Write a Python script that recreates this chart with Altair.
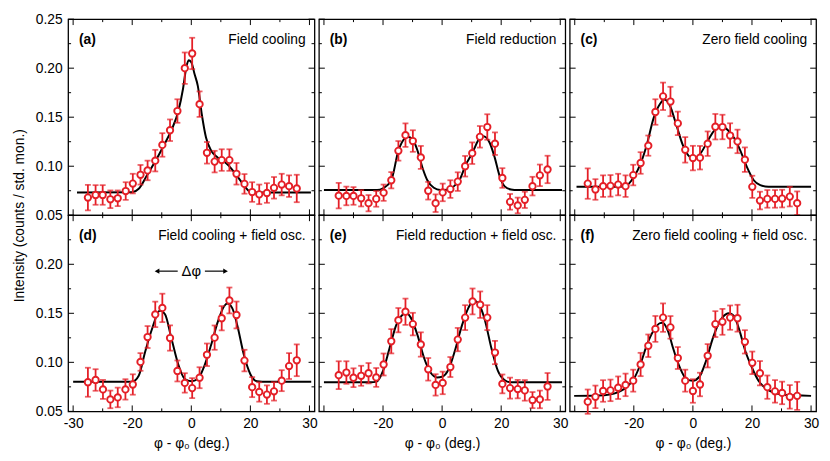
import altair as alt
import pandas as pd

RED = "#e41e26"
FONT = "Liberation Sans"
W, H = 250, 199
XDOM = [-41.7, 41.7]
YDOM = [0.05, 0.25]

PANEL_TAGS = ["(a)", "(b)", "(c)", "(d)", "(e)", "(f)"]
PANEL_NAMES = ["Field cooling", "Field reduction", "Zero field cooling",
               "Field cooling + field osc.", "Field reduction + field osc.",
               "Zero field cooling + field osc."]

# tick values (x axis: labelled positions ±40 carry the printed labels ±30 as in the source)
XT_MAJ = [-40, -20, 0, 20, 40]
XT_MIN = [-30, -10, 10, 30]
YT_MAJ = [0.05, 0.10, 0.15, 0.20, 0.25]
YT_MIN = [0.075, 0.125, 0.175, 0.225]

# ---------------- (a) Field cooling ----------------
X_A = [-35, -32.4, -30, -27.4, -24.9, -22.2, -19.8, -17.2, -14.8, -12.2, -9.8, -7.2, -4.7, -2.2, 0.3,
       2.8, 5.3, 7.9, 10.3, 12.9, 15.3, 18, 20.6, 23, 25.6, 28, 30.6, 33.1, 35.7]
Y_A = [0.068, 0.0707, 0.0707, 0.0663, 0.0673, 0.0747, 0.0823, 0.0913, 0.0957, 0.1057, 0.1217, 0.1367,
       0.1563, 0.200, 0.215, 0.1633, 0.1137, 0.1047, 0.1063, 0.1063, 0.0923, 0.082, 0.0737, 0.0713,
       0.0727, 0.078, 0.0813, 0.0797, 0.0773]
E_A = [0.013, 0.010, 0.010, 0.009, 0.008, 0.009, 0.010, 0.010, 0.010, 0.011, 0.012, 0.011, 0.012, 0.016,
       0.016, 0.013, 0.011, 0.011, 0.011, 0.011, 0.011, 0.010, 0.010, 0.010, 0.010, 0.011, 0.011, 0.011, 0.014]
FX_A = [-38.7, -20, -17.8, -15, -12.2, -9.4, -6.7, -4.4, -2.8, -1.7, -0.9, 0, 1.1, 2.2, 3.6, 5, 6.7,
        8.9, 12.2, 15, 17.8, 20, 22.5, 40.5]
FY_A = [0.0733, 0.0735, 0.077, 0.0907, 0.105, 0.1207, 0.137, 0.156, 0.179, 0.2007, 0.208, 0.206, 0.194,
        0.182, 0.152, 0.129, 0.116, 0.109, 0.102, 0.092, 0.0807, 0.074, 0.0733, 0.0733]

# ---------------- (b) Field reduction ----------------
X_B = [-35, -32.4, -30, -27.4, -24.9, -22.3, -19.8, -17.2, -14.8, -12.4, -9.9, -7.2, -4.7, -2.2, 0.2,
       2.8, 5.3, 7.8, 10.2, 12.8, 15.3, 17.9, 20.4, 23, 25.6, 28, 30.6, 33.1, 35.7]
Y_B = [0.070, 0.0697, 0.0697, 0.0673, 0.0623, 0.0667, 0.073, 0.0857, 0.1157, 0.1317, 0.1257, 0.109,
       0.075, 0.0623, 0.0733, 0.0767, 0.0843, 0.100, 0.1133, 0.130, 0.140, 0.123, 0.088, 0.0637, 0.060,
       0.0657, 0.0797, 0.0907, 0.0967]
E_B = [0.013, 0.0095, 0.009, 0.0083, 0.0083, 0.008, 0.0083, 0.0083, 0.010, 0.012, 0.011, 0.0117, 0.009,
       0.009, 0.009, 0.009, 0.0095, 0.0105, 0.011, 0.011, 0.013, 0.0115, 0.010, 0.008, 0.008, 0.0083,
       0.0095, 0.011, 0.014]
FX_B = [-40, -22, -20, -17.2, -14.8, -12.4, -11.7, -9.9, -8.3, -6.7, -5, -2.8, -0.6, 2.2, 4.4, 6.1, 7.8,
        10.2, 12.8, 13.9, 16.1, 17.8, 19.4, 21.1, 23.3, 25.6, 40.6]
FY_B = [0.0757, 0.0757, 0.0775, 0.0857, 0.1157, 0.129, 0.130, 0.127, 0.1157, 0.099, 0.0857, 0.078,
        0.0757, 0.0763, 0.0807, 0.0873, 0.100, 0.1133, 0.129, 0.1307, 0.124, 0.109, 0.0907, 0.0797,
        0.0763, 0.0757, 0.0757]

# ---------------- (c) Zero field cooling ----------------
X_C = [-35.6, -33, -30.4, -27.9, -25.3, -22.8, -20.2, -17.7, -15.1, -12.7, -10.1, -7.6, -5.1, -2.6, 0,
       2.4, 5, 7.6, 10, 12.6, 15.1, 17.6, 20.1, 22.7, 25.2, 27.8, 30.2, 32.8, 35.3]
Y_C = [0.0823, 0.0763, 0.0797, 0.080, 0.0813, 0.0797, 0.091, 0.1033, 0.121, 0.1553, 0.1713, 0.166,
       0.1437, 0.1167, 0.1083, 0.1087, 0.123, 0.1403, 0.140, 0.1313, 0.1253, 0.1067, 0.079, 0.065,
       0.0667, 0.0667, 0.067, 0.069, 0.0623]
E_C = [0.0155, 0.0105, 0.011, 0.011, 0.011, 0.011, 0.0105, 0.011, 0.0103, 0.013, 0.014, 0.015, 0.012,
       0.013, 0.0125, 0.012, 0.0125, 0.013, 0.0125, 0.0125, 0.012, 0.0125, 0.0113, 0.009, 0.009, 0.009,
       0.009, 0.010, 0.012]
FX_C = [-39.4, -25, -22.8, -20, -17.8, -15.6, -13.3, -11.1, -9.7, -7.8, -5.6, -3.3, -1.1, 0.6, 2.8, 5,
        7.2, 9.4, 11.7, 13.9, 16.1, 18.3, 20.6, 22.8, 25.6, 40]
FY_C = [0.079, 0.079, 0.0797, 0.089, 0.102, 0.122, 0.149, 0.1637, 0.168, 0.162, 0.142, 0.1207, 0.1097,
        0.108, 0.114, 0.1257, 0.1363, 0.1407, 0.1373, 0.129, 0.1157, 0.099, 0.0857, 0.0807, 0.079, 0.079]

# ---------------- (d) Field cooling + field osc. ----------------
X_D = [-35, -32.4, -29.9, -27.4, -24.9, -22.3, -19.8, -17.2, -14.8, -12.2, -9.8, -7.2, -4.7, -2.2, 0.3,
       2.8, 5.3, 7.9, 10.3, 12.9, 15.3, 18, 20.6, 23, 25.6, 28, 30.6, 33.1, 35.7]
Y_D = [0.0797, 0.082, 0.0724, 0.0622, 0.0642, 0.0724, 0.0774, 0.1004, 0.1258, 0.1489, 0.1555, 0.1248,
       0.0912, 0.079, 0.0737, 0.0843, 0.1077, 0.1252, 0.145, 0.1631, 0.1483, 0.1018, 0.0747, 0.0698,
       0.0671, 0.0704, 0.0813, 0.0962, 0.1021]
E_D = [0.0148, 0.011, 0.0097, 0.009, 0.010, 0.0104, 0.0104, 0.009, 0.0112, 0.013, 0.0145, 0.0129,
       0.0107, 0.0099, 0.0102, 0.0107, 0.0115, 0.0124, 0.0124, 0.0132, 0.0137, 0.011, 0.0102, 0.0099,
       0.0094, 0.0094, 0.0107, 0.0132, 0.0162]
FX_D = [-40, -20, -17.8, -15.6, -13.3, -10.6, -8.9, -6.7, -4.4, -2.2, 0, 2.2, 4.4, 6.7, 8.9, 11.1, 12.2,
        13.9, 15.6, 17.8, 20, 22.2, 24, 40.6]
FY_D = [0.0803, 0.0803, 0.0863, 0.111, 0.134, 0.1529, 0.149, 0.124, 0.0978, 0.083, 0.0807, 0.083,
        0.0962, 0.1176, 0.1407, 0.1572, 0.160, 0.155, 0.1374, 0.1077, 0.0879, 0.0807, 0.0803, 0.0803]

# ---------------- (e) Field reduction + field osc. ----------------
X_E = [-35, -32.4, -30, -27.4, -24.9, -22.3, -19.8, -17.2, -14.8, -12.4, -9.9, -7.2, -4.7, -2.2, 0.2,
       2.8, 5.3, 7.8, 10.3, 12.9, 15.3, 17.9, 20.4, 23, 25.6, 28, 30.6, 33.1, 35.7]
Y_E = [0.0869, 0.0896, 0.0843, 0.0863, 0.0889, 0.0846, 0.0978, 0.1215, 0.143, 0.1516, 0.139, 0.1182,
       0.0929, 0.077, 0.079, 0.0952, 0.1232, 0.1456, 0.1621, 0.1588, 0.1456, 0.110, 0.078, 0.0737,
       0.0727, 0.0714, 0.0615, 0.0622, 0.0754]
E_E = [0.0142, 0.0115, 0.0096, 0.0102, 0.0104, 0.0096, 0.0112, 0.0124, 0.0124, 0.0134, 0.0115, 0.0124,
       0.0115, 0.0109, 0.0115, 0.0102, 0.0119, 0.0127, 0.0132, 0.0135, 0.0127, 0.0119, 0.0096, 0.0107,
       0.0094, 0.0105, 0.0082, 0.009, 0.0137]
FX_E = [-40, -24, -22.2, -20, -17.8, -15.6, -13.3, -12.2, -10.6, -8.3, -6.1, -3.9, -1.7, 0, 2.2, 4.4,
        6.7, 8.9, 10.6, 12.2, 14.4, 16.7, 18.9, 21.1, 23.3, 40.6]
FY_E = [0.0797, 0.0797, 0.0803, 0.0912, 0.1143, 0.1374, 0.1489, 0.1506, 0.1456, 0.1275, 0.1044, 0.0896,
        0.0846, 0.0853, 0.0929, 0.1126, 0.1374, 0.1555, 0.1631, 0.1605, 0.144, 0.1143, 0.0912, 0.082,
        0.0797, 0.0797]

# ---------------- (f) Zero field cooling + field osc. ----------------
X_F = [-35.6, -33, -30.4, -27.9, -25.3, -22.8, -20.2, -17.7, -15.1, -12.7, -10.1, -7.6, -5.1, -2.6, 0,
       2.4, 5, 7.6, 10, 12.6, 15.1, 17.6, 20.1, 22.7, 25.2, 27.8, 30.2, 32.8, 35.3]
Y_F = [0.0599, 0.0648, 0.0708, 0.0714, 0.0741, 0.077, 0.0813, 0.0978, 0.1169, 0.1341, 0.1456, 0.1357,
       0.1044, 0.0813, 0.0708, 0.0774, 0.1067, 0.139, 0.1413, 0.1456, 0.145, 0.1209, 0.0995, 0.0889,
       0.0747, 0.0704, 0.0688, 0.0648, 0.0658]
E_F = [0.0124, 0.0115, 0.011, 0.011, 0.0115, 0.0115, 0.0112, 0.0119, 0.0115, 0.0132, 0.0145, 0.0115,
       0.0112, 0.0112, 0.012, 0.012, 0.0119, 0.0132, 0.0132, 0.0124, 0.0137, 0.0119, 0.0115, 0.0124,
       0.0119, 0.0115, 0.0115, 0.012, 0.0143]
FX_F = [-40.2, -30, -26.7, -24.4, -22.2, -20, -17.8, -15.6, -13.3, -11.1, -10.3, -8.3, -6.7, -4.4, -2.2,
        0, 2.2, 4.4, 6.7, 8.9, 11.1, 12.2, 13.9, 15.6, 17.8, 20, 22.2, 24.4, 26.7, 30, 40]
FY_F = [0.0658, 0.0665, 0.0681, 0.0708, 0.0754, 0.083, 0.0978, 0.1176, 0.1324, 0.14, 0.1403, 0.1308,
        0.1143, 0.0945, 0.083, 0.0813, 0.0853, 0.1011, 0.1242, 0.1407, 0.1489, 0.150, 0.1473, 0.1341,
        0.111, 0.0945, 0.0813, 0.0741, 0.0698, 0.0671, 0.0658]

# Δφ annotation in panel (d)
DPHI_LABEL = ["Δφ"]
DPHI_X = [0.0]
DPHI_Y = 0.193
ARROW_TAIL = [-4.6, 4.6]
ARROW_HEAD = [-11.6, 11.6]
ARROW_SHAPE = ["triangle-left", "triangle-right"]

PANELS = [(X_A, Y_A, E_A, FX_A, FY_A), (X_B, Y_B, E_B, FX_B, FY_B), (X_C, Y_C, E_C, FX_C, FY_C),
          (X_D, Y_D, E_D, FX_D, FY_D), (X_E, Y_E, E_E, FX_E, FY_E), (X_F, Y_F, E_F, FX_F, FY_F)]

XS = alt.Scale(domain=XDOM, nice=False, zero=False)
YS = alt.Scale(domain=YDOM, nice=False, zero=False)
XLABEL_EXPR = "datum.value == 40 ? '30' : (datum.value == -40 ? '-30' : '' + datum.value)"


def x_axis(row, col):
    if row == 0:
        return alt.Axis(labels=False, ticks=False, domain=False, grid=False, title=None)
    vals = XT_MAJ if col == 0 else XT_MAJ[1:]
    return alt.Axis(values=vals, labelExpr=XLABEL_EXPR, ticks=False, domain=False, grid=False,
                    labelOverlap=False, labelPadding=5, title="φ - φ₀ (deg.)", titlePadding=7)


def y_axis(row, col):
    if col != 0:
        return alt.Axis(labels=False, ticks=False, domain=False, grid=False, title=None)
    vals = YT_MAJ if row == 0 else YT_MAJ[:-1]
    if row == 0:
        return alt.Axis(values=vals, format=".2f", ticks=False, domain=False, grid=False,
                        labelOverlap=False, labelPadding=6, title=None)
    return alt.Axis(values=vals, format=".2f", ticks=False, domain=False, grid=False,
                    labelOverlap=False, labelPadding=6, title="Intensity (counts / std. mon.)",
                    titleY=0, titlePadding=9)


def panel(i):
    row, col = divmod(i, 3)
    px, py, pe, fx, fy = PANELS[i]
    xa, ya = x_axis(row, col), y_axis(row, col)

    def X(f):
        return alt.X(f, type="quantitative", scale=XS, axis=xa)

    def Y(f):
        return alt.Y(f, type="quantitative", scale=YS, axis=ya)

    pts = pd.DataFrame({"x": px, "y": py, "e": pe})
    pts["lo"] = pts["y"] - pts["e"]
    pts["hi"] = pts["y"] + pts["e"]
    fit = pd.DataFrame({"x": fx, "y": fy})

    layers = []
    layers.append(alt.Chart(fit).mark_line(color="black", strokeWidth=2, interpolate="monotone")
                  .encode(x=X("x"), y=Y("y")))
    layers.append(alt.Chart(pts).mark_rule(color=RED, strokeWidth=1.8)
                  .encode(x=X("x"), y=Y("lo"), y2="hi"))
    layers.append(alt.Chart(pts).mark_tick(color=RED, orient="horizontal", thickness=1.8, size=6)
                  .encode(x=X("x"), y=Y("lo")))
    layers.append(alt.Chart(pts).mark_tick(color=RED, orient="horizontal", thickness=1.8, size=6)
                  .encode(x=X("x"), y=Y("hi")))
    layers.append(alt.Chart(pts).mark_point(shape="circle", filled=True, fill="white", stroke=RED,
                                            strokeWidth=1.9, size=42, opacity=1)
                  .encode(x=X("x"), y=Y("y")))

    # inward ticks on all four sides
    for vals, ln in ((XT_MAJ, 6), (XT_MIN, 3)):
        d = pd.DataFrame({"v": vals})
        layers.append(alt.Chart(d).mark_rule(color="black", strokeWidth=1)
                      .encode(x=X("v"), y=alt.value(H), y2=alt.value(H - ln)))
        layers.append(alt.Chart(d).mark_rule(color="black", strokeWidth=1)
                      .encode(x=X("v"), y=alt.value(0), y2=alt.value(ln)))
    for vals, ln in ((YT_MAJ, 6), (YT_MIN, 3)):
        d = pd.DataFrame({"v": vals})
        layers.append(alt.Chart(d).mark_rule(color="black", strokeWidth=1)
                      .encode(y=Y("v"), x=alt.value(0), x2=alt.value(ln)))
        layers.append(alt.Chart(d).mark_rule(color="black", strokeWidth=1)
                      .encode(y=Y("v"), x=alt.value(W), x2=alt.value(W - ln)))

    layers.append(alt.Chart(pd.DataFrame({"t": [PANEL_TAGS[i]]}))
                  .mark_text(align="left", baseline="middle", font=FONT, fontSize=14,
                             fontWeight="bold", color="black")
                  .encode(x=alt.value(11), y=alt.value(21), text="t:N"))
    layers.append(alt.Chart(pd.DataFrame({"t": [PANEL_NAMES[i]]}))
                  .mark_text(align="right", baseline="middle", font=FONT, fontSize=14, color="black")
                  .encode(x=alt.value(W - 9), y=alt.value(21), text="t:N"))

    if i == 3:
        arr = pd.DataFrame({"a": ARROW_TAIL, "b": ARROW_HEAD, "s": ARROW_SHAPE,
                            "y": [DPHI_Y] * len(ARROW_TAIL)})
        layers.append(alt.Chart(arr).mark_rule(color="black", strokeWidth=1.2)
                      .encode(x=X("a"), x2="b", y=Y("y")))
        layers.append(alt.Chart(arr).mark_point(filled=True, color="black", size=30, opacity=1)
                      .encode(x=X("b"), y=Y("y"), shape=alt.Shape("s:N", scale=None)))
        lab = pd.DataFrame({"x": DPHI_X, "y": [DPHI_Y], "t": DPHI_LABEL})
        layers.append(alt.Chart(lab).mark_text(font=FONT, fontSize=15, color="black",
                                               baseline="middle")
                      .encode(x=X("x"), y=Y("y"), text="t:N"))

    return alt.layer(*layers).properties(width=W, height=H)


chart = alt.concat(*[panel(i) for i in range(6)], columns=3,
                   spacing={"row": 0, "column": 4.5}, bounds="flush").properties(
    padding={"left": 4, "top": 0, "right": 2, "bottom": 2}
).configure_view(stroke="black", strokeWidth=1.3).configure_axis(
    labelFont=FONT, titleFont=FONT, labelFontSize=14, titleFontSize=14,
    labelColor="black", titleColor="black", titleFontWeight="normal"
)

chart.save("out.html", embed_options={"renderer": "svg", "actions": False})
